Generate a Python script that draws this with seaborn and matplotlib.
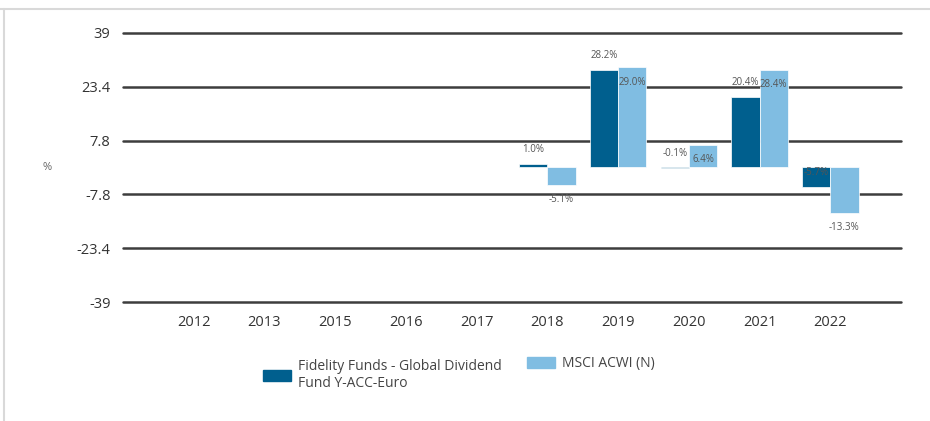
import matplotlib
matplotlib.use("Agg")
import matplotlib.pyplot as plt
from matplotlib.lines import Line2D
import numpy as np
import pandas as pd
import seaborn as sns

# --- data ---
years = ["2012", "2013", "2015", "2016", "2017", "2018", "2019", "2020", "2021", "2022"]
fund_name = "Fidelity Funds - Global Dividend\nFund Y-ACC-Euro"
index_name = "MSCI ACWI (N)"
fund_values = [np.nan, np.nan, np.nan, np.nan, np.nan, 1.0, 28.2, -0.1, 20.4, -5.7]
index_values = [np.nan, np.nan, np.nan, np.nan, np.nan, -5.1, 29.0, 6.4, 28.4, -13.3]
y_ticks = [-39, -23.4, -7.8, 7.8, 23.4, 39]

fund_color = "#005f8e"
index_color = "#80bde2"

df = pd.DataFrame({
    "year": years * 2,
    "series": [fund_name] * len(years) + [index_name] * len(years),
    "value": fund_values + index_values,
}).dropna()

sns.set_style("white")
plt.rcParams["font.family"] = ["Open Sans", "DejaVu Sans"]

fig = plt.figure(figsize=(9.3, 4.21), dpi=100)
ax = fig.add_axes([123 / 930, 1 - 302 / 421, 778 / 930, 269 / 421])

sns.barplot(data=df, x="year", y="value", hue="series", order=years,
            hue_order=[fund_name, index_name],
            palette=[fund_color, index_color], saturation=1, width=0.8,
            edgecolor="white", linewidth=0.5, legend=False, ax=ax, zorder=3)

ax.set_xlim(-1, 10)
ax.set_ylim(-39, 39)
ax.set_yticks(y_ticks)
ax.set_yticklabels([f"{t:g}" for t in y_ticks])
for t in y_ticks:
    ax.axhline(t, color="#3d3d3d", lw=1.8, zorder=1, clip_on=False)
for s in ax.spines.values():
    s.set_visible(False)
ax.tick_params(axis="both", length=0, labelsize=10.5, labelcolor="#333333")
ax.tick_params(axis="y", pad=9)
ax.tick_params(axis="x", pad=9)
ax.set_xlabel("")
ax.set_ylabel("%", rotation=0, fontsize=8, color="#666666", va="center")
ax.yaxis.set_label_coords(-0.098, 0.5)

# value labels: fund above bar end, index below bar end
for container, up in zip(ax.containers, [True, False]):
    for bar, v in zip(container, container.datavalues):
        xc = bar.get_x() + bar.get_width() / 2
        end = bar.get_y() + bar.get_height()
        ax.annotate(f"{v:.1f}%", (xc, end),
                    xytext=(0, 6.5 if up else -6.5), textcoords="offset points",
                    ha="center", va="bottom" if up else "top",
                    fontsize=7, color="#555555", zorder=5)

# legend, one block per series
legend_style = dict(frameon=False, fontsize=10, labelcolor="#444444",
                    handlelength=2.0, handleheight=0.9, handletextpad=0.5,
                    borderpad=0, borderaxespad=0)
fig.legend([plt.Rectangle((0, 0), 1, 1, color=fund_color)], [fund_name],
           loc="center left", bbox_to_anchor=(263 / 930, 1 - 375 / 421), **legend_style)
fig.legend([plt.Rectangle((0, 0), 1, 1, color=index_color)], [index_name],
           loc="center left", bbox_to_anchor=(527 / 930, 1 - 364 / 421), **legend_style)

# light outer frame lines
fig.add_artist(Line2D([0, 1], [1 - 9 / 421, 1 - 9 / 421], color="#d9d9d9", lw=1.5))
fig.add_artist(Line2D([4 / 930, 4 / 930], [0, 1 - 9 / 421], color="#d9d9d9", lw=1.5))

fig.savefig("out.png", dpi=100)
